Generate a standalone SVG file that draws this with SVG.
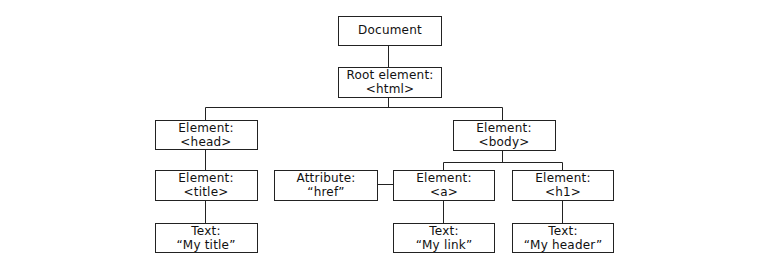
<svg xmlns="http://www.w3.org/2000/svg" width="768" height="269" viewBox="0 0 768 269">
<style>
.box{fill:#fff;stroke:#222;stroke-width:1}
.lbl{font-family:"DejaVu Sans",Verdana,sans-serif;font-size:12px;letter-spacing:0.2px;fill:#111;text-anchor:middle}
.con{fill:none;stroke:#222;stroke-width:1}
</style>
<rect width="768" height="269" fill="#fff"/>
<g id="connectors">
<path class="con" d="M388.5 45.5V67.5"/>
<path class="con" d="M388.5 97.5V107.5M205.5 120.5V107.5H502.5V120.5"/>
<path class="con" d="M205.5 149.5V170.5"/>
<path class="con" d="M205.5 200.5V223.5"/>
<path class="con" d="M502.5 150.5V162.5M443.5 170.5V162.5H562.5V170.5"/>
<path class="con" d="M377.5 184.5H393.5"/>
<path class="con" d="M443.5 200.5V223.5"/>
<path class="con" d="M562.5 200.5V223.5"/>
</g>
<g id="document"><rect class="box" x="338.5" y="16.5" width="103" height="29"/><text class="lbl" x="390" y="34">Document</text></g>
<g id="root"><rect class="box" x="338.5" y="67.5" width="103" height="30"/><text class="lbl" x="390" y="79">Root element:</text><text class="lbl" x="390" y="93">&lt;html&gt;</text></g>
<g id="head"><rect class="box" x="155.5" y="120.5" width="102" height="29"/><text class="lbl" x="206" y="132">Element:</text><text class="lbl" x="206" y="146">&lt;head&gt;</text></g>
<g id="body"><rect class="box" x="453.5" y="120.5" width="102" height="30"/><text class="lbl" x="504" y="132">Element:</text><text class="lbl" x="504" y="146">&lt;body&gt;</text></g>
<g id="title"><rect class="box" x="155.5" y="170.5" width="102" height="30"/><text class="lbl" x="206" y="182">Element:</text><text class="lbl" x="206" y="196">&lt;title&gt;</text></g>
<g id="attribute"><rect class="box" x="274.5" y="170.5" width="103" height="30"/><text class="lbl" x="326" y="182">Attribute:</text><text class="lbl" x="326" y="196">“href”</text></g>
<g id="a"><rect class="box" x="393.5" y="170.5" width="101" height="30"/><text class="lbl" x="444" y="182">Element:</text><text class="lbl" x="444" y="196">&lt;a&gt;</text></g>
<g id="h1"><rect class="box" x="512.5" y="170.5" width="101" height="30"/><text class="lbl" x="563" y="182">Element:</text><text class="lbl" x="563" y="196">&lt;h1&gt;</text></g>
<g id="text-title"><rect class="box" x="155.5" y="223.5" width="102" height="29"/><text class="lbl" x="206" y="235">Text:</text><text class="lbl" x="206" y="249">“My title”</text></g>
<g id="text-link"><rect class="box" x="393.5" y="223.5" width="101" height="29"/><text class="lbl" x="444" y="235">Text:</text><text class="lbl" x="444" y="249">“My link”</text></g>
<g id="text-header"><rect class="box" x="512.5" y="223.5" width="101" height="29"/><text class="lbl" x="563" y="235">Text:</text><text class="lbl" x="563" y="249">“My header”</text></g>
</svg>
